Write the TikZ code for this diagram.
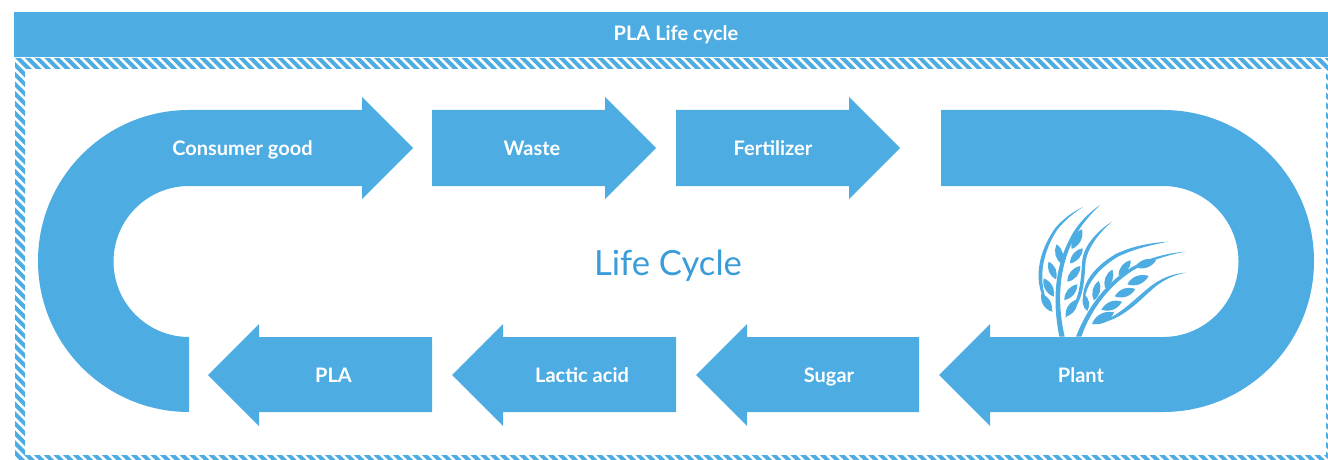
\documentclass[tikz,border=0pt]{standalone}
\usepackage{fontspec}
\setmainfont{Lato}
\definecolor{lcblue}{HTML}{4DACE2}
\definecolor{lctext}{HTML}{3A9CD8}
\tikzset{
  x=0.75pt,y=-0.75pt,
  band/.style={fill=lcblue,draw=none},
  lab/.style={text=white,font=\fontsize{15}{17}\selectfont\bfseries,inner sep=0pt,anchor=base},
  wheat/.style={fill=lcblue,draw=none},
}
% leaf from a to b
\newcommand{\wleaf}[3][40]{\fill[wheat] (#2) to[bend left=#1] (#3) to[bend left=#1] (#2);}
\begin{document}
\begin{tikzpicture}
\useasboundingbox (0,0) rectangle (1328,460);
% header
\fill[band] (14,12) rectangle (1328,57);
\node[lab] (title) at (676,41) {PLA Life cycle};
% hatched frame
\begin{scope}[even odd rule]
\clip (15,58) rectangle (1328,460) (25,69) rectangle (1326,455);
\foreach \i in {-46,...,180}{
  \draw[lcblue,line width=3pt] ({\i*9.7},40) -- ({\i*9.7+430},470);
}
\end{scope}
% arrows
\fill[band] (413,148) -- (362,97) -- (362,110) -- (189,110) arc[start angle=270,end angle=90,radius=151] -- (189,337) arc[start angle=90,end angle=270,radius=75.5] -- (362,186) -- (362,199) -- cycle;
\node[lab] (consumer) at (242.5,155) {Consumer good};
\fill[band] (656,148) -- (605,97) -- (605,110) -- (432,110) -- (432,186) -- (605,186) -- (605,199) -- cycle;
\node[lab] (waste) at (532,155) {Waste};
\fill[band] (900,148) -- (849,97) -- (849,110) -- (676,110) -- (676,186) -- (849,186) -- (849,199) -- cycle;
\node[lab] (fert) at (773,155) {Fertilizer};
\fill[band] (941,110) -- (1163,110) arc[start angle=-90,end angle=90,radius=151] -- (990,412) -- (990,426) -- (939,375) -- (990,324) -- (990,337) -- (1163,337) arc[start angle=90,end angle=-90,radius=75.5] -- (941,186) -- cycle;
\node[lab] (plant) at (1081,382) {Plant};
\fill[band] (696,375) -- (747,324) -- (747,337) -- (919,337) -- (919,412) -- (747,412) -- (747,426) -- cycle;
\node[lab] (sugar) at (829,382) {Sugar};
\fill[band] (452,375) -- (503,324) -- (503,337) -- (676,337) -- (676,412) -- (503,412) -- (503,426) -- cycle;
\node[lab] (lactic) at (582,382) {Lactic acid};
\fill[band] (208,375) -- (259,324) -- (259,337) -- (432,337) -- (432,412) -- (259,412) -- (259,426) -- cycle;
\node[lab] (pla) at (333.5,382) {PLA};
\node[text=lctext,font=\fontsize{26}{30}\selectfont,inner sep=0pt,anchor=base] (life) at (668,275) {Life Cycle};
% wheat
\begin{scope}[shift={(1020,195)},x=0.25pt,y=-0.25pt]
  % left ear strands
  \fill[wheat] (100,352) .. controls (38,290) and (42,190) .. (105,100) .. controls (130,70) and (160,50) .. (190,35) .. controls (160,55) and (135,75) .. (112,104) .. controls (58,185) and (50,285) .. (100,352) -- cycle;
  \fill[wheat] (118,425) .. controls (97,320) and (103,220) .. (150,130) .. controls (173,85) and (205,55) .. (240,30) .. controls (210,60) and (182,90) .. (160,134) .. controls (117,220) and (110,320) .. (134,425) -- cycle;
  \fill[wheat] (135,368) .. controls (180,320) and (182,260) .. (187,195) .. controls (192,150) and (235,105) .. (276,80) .. controls (240,110) and (205,155) .. (197,197) .. controls (192,270) and (190,330) .. (135,368) -- cycle;
  \wleaf{95,350}{64,296}
  \wleaf{101,305}{71,250}
  \wleaf{108,253}{86,200}
  \wleaf{125,207}{110,148}
  \wleaf{155,162}{186,103}
  \wleaf{137,365}{172,313}
  \wleaf{133,315}{172,268}
  \wleaf{142,260}{181,213}
  \wleaf{150,205}{188,160}
  % right ear strands
  \fill[wheat] (196,345) .. controls (172,280) and (212,222) .. (287,177) .. controls (340,152) and (395,143) .. (445,140) .. controls (395,150) and (345,160) .. (292,186) .. controls (225,228) and (183,285) .. (196,345) -- cycle;
  \fill[wheat] (168,425) .. controls (197,350) and (250,268) .. (330,220) .. controls (380,190) and (440,174) .. (497,170) .. controls (440,180) and (385,198) .. (336,228) .. controls (263,275) and (210,350) .. (184,425) -- cycle;
  \fill[wheat] (218,388) .. controls (290,372) and (337,318) .. (384,280) .. controls (420,250) and (460,235) .. (498,233) .. controls (460,240) and (425,256) .. (391,288) .. controls (345,330) and (295,382) .. (218,388) -- cycle;
  \wleaf{202,348}{193,298}
  \wleaf{222,316}{236,258}
  \wleaf{256,280}{277,224}
  \wleaf{296,242}{332,196}
  \wleaf{345,216}{408,196}
  \wleaf{216,386}{282,352}
  \wleaf{244,344}{306,320}
  \wleaf{284,304}{346,282}
  \wleaf{322,268}{386,243}
\end{scope}
\end{tikzpicture}
\end{document}
